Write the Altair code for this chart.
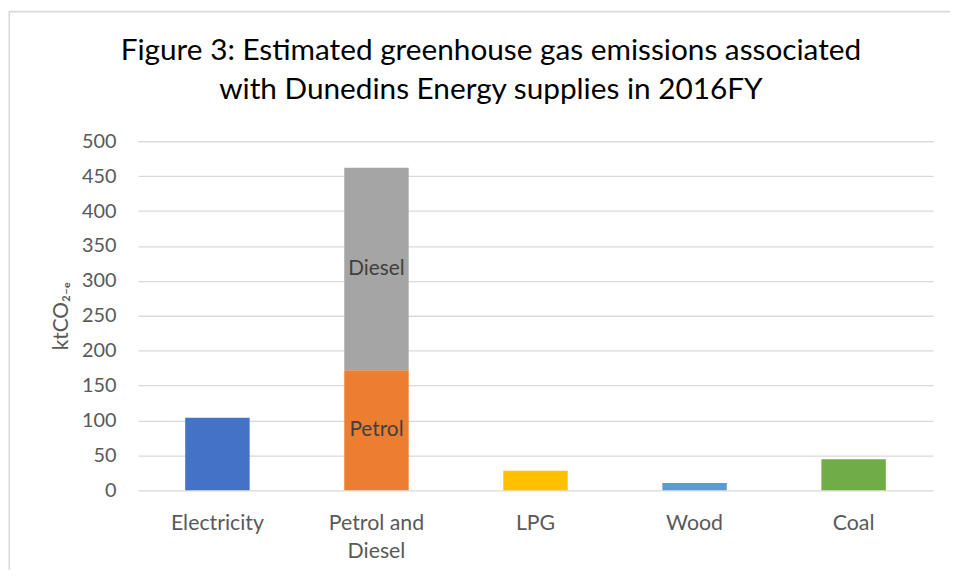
import altair as alt
import pandas as pd

# ---- data ----
categories = ["Electricity", "Petrol and Diesel", "Petrol and Diesel", "LPG", "Wood", "Coal"]
segments = ["Electricity", "Petrol", "Diesel", "LPG", "Wood", "Coal"]
values = [104, 172, 290, 28, 10.5, 44.5]
seg_labels = ["", "Petrol", "Diesel", "", "", ""]
seg_order = [0, 0, 1, 0, 0, 0]
colors = ["#4472C4", "#ED7D31", "#A5A5A5", "#FFC000", "#5B9BD5", "#70AD47"]
cat_order = ["Electricity", "Petrol and Diesel", "LPG", "Wood", "Coal"]
y_ticks = [0, 50, 100, 150, 200, 250, 300, 350, 400, 450, 500]
title_lines = ["Figure 3: Estimated greenhouse gas emissions associated",
               "with Dunedins Energy supplies in 2016FY"]
y_title = "ktCO₂₋ₑ"

df = pd.DataFrame({
    "category": categories,
    "segment": segments,
    "value": values,
    "label": seg_labels,
    "order": seg_order,
})

FONT = "Lato"
GRID = "#D9D9D9"
LABEL = "#595959"

base = alt.Chart(df).transform_stack(
    stack="value", groupby=["category"], as_=["y0", "y1"],
    sort=[alt.SortField("order", order="ascending")]
).transform_calculate(ymid="(datum.y0 + datum.y1) / 2")

x_scale = alt.Scale(paddingInner=0.595, paddingOuter=0.2975)
x_axis = alt.Axis(
    title=None, labelAngle=0, ticks=False, domain=False,
    labelFont=FONT, labelFontSize=21.5, labelColor=LABEL,
    labelPadding=23, labelLineHeight=28,
    labelExpr="datum.label == 'Petrol and Diesel' ? ['Petrol and', 'Diesel'] : datum.label",
)
y_scale = alt.Scale(domain=[0, 500], nice=False, zero=True)
y_axis = alt.Axis(
    values=y_ticks, grid=True, gridColor=GRID, gridWidth=1.3,
    ticks=False, domain=False, labelOverlap=False,
    labelFont=FONT, labelFontSize=20, labelColor=LABEL, labelPadding=22,
    title=y_title, titleFont=FONT, titleFontSize=21, titleFontWeight="normal",
    titleColor=LABEL, titleX=-77, titleBaseline="middle",
)

bars = base.mark_bar().encode(
    x=alt.X("category:N", sort=cat_order, scale=x_scale, axis=x_axis),
    y=alt.Y("y0:Q", scale=y_scale, axis=y_axis),
    y2="y1:Q",
    color=alt.Color("segment:N", scale=alt.Scale(domain=segments, range=colors), legend=None),
)

texts = base.transform_filter("datum.label != ''").mark_text(
    font=FONT, fontSize=21, color="#404040", baseline="middle"
).encode(
    x=alt.X("category:N", sort=cat_order, scale=x_scale, axis=x_axis),
    y=alt.Y("ymid:Q", scale=y_scale, axis=y_axis),
    text="label:N",
)

frame_df = pd.DataFrame({"k": [0]})
top_border = alt.Chart(frame_df).mark_rule(color=GRID, strokeWidth=1.6).encode(
    x=alt.value(-130), x2=alt.value(830), y=alt.value(-130.7)
)
left_border = alt.Chart(frame_df).mark_rule(color=GRID, strokeWidth=1.6).encode(
    x=alt.value(-129.7), y=alt.value(-131), y2=alt.value(450)
)

chart = alt.layer(bars, texts, top_border, left_border).properties(
    width=802,
    height=352,
    autosize=alt.AutoSizeParams(type="none"),
    padding={"left": 131, "top": 132, "right": 17, "bottom": 78},
    title=alt.TitleParams(
        text=title_lines, font=FONT, fontSize=30, fontWeight="normal",
        color="#000000", anchor="middle", frame="group", dx=-45,
        offset=-119.5, lineHeight=40, baseline="alphabetic",
    ),
).configure(background="white", view=alt.ViewConfig(stroke=None))

chart.save("out.html", embed_options={"renderer": "svg", "actions": False})
